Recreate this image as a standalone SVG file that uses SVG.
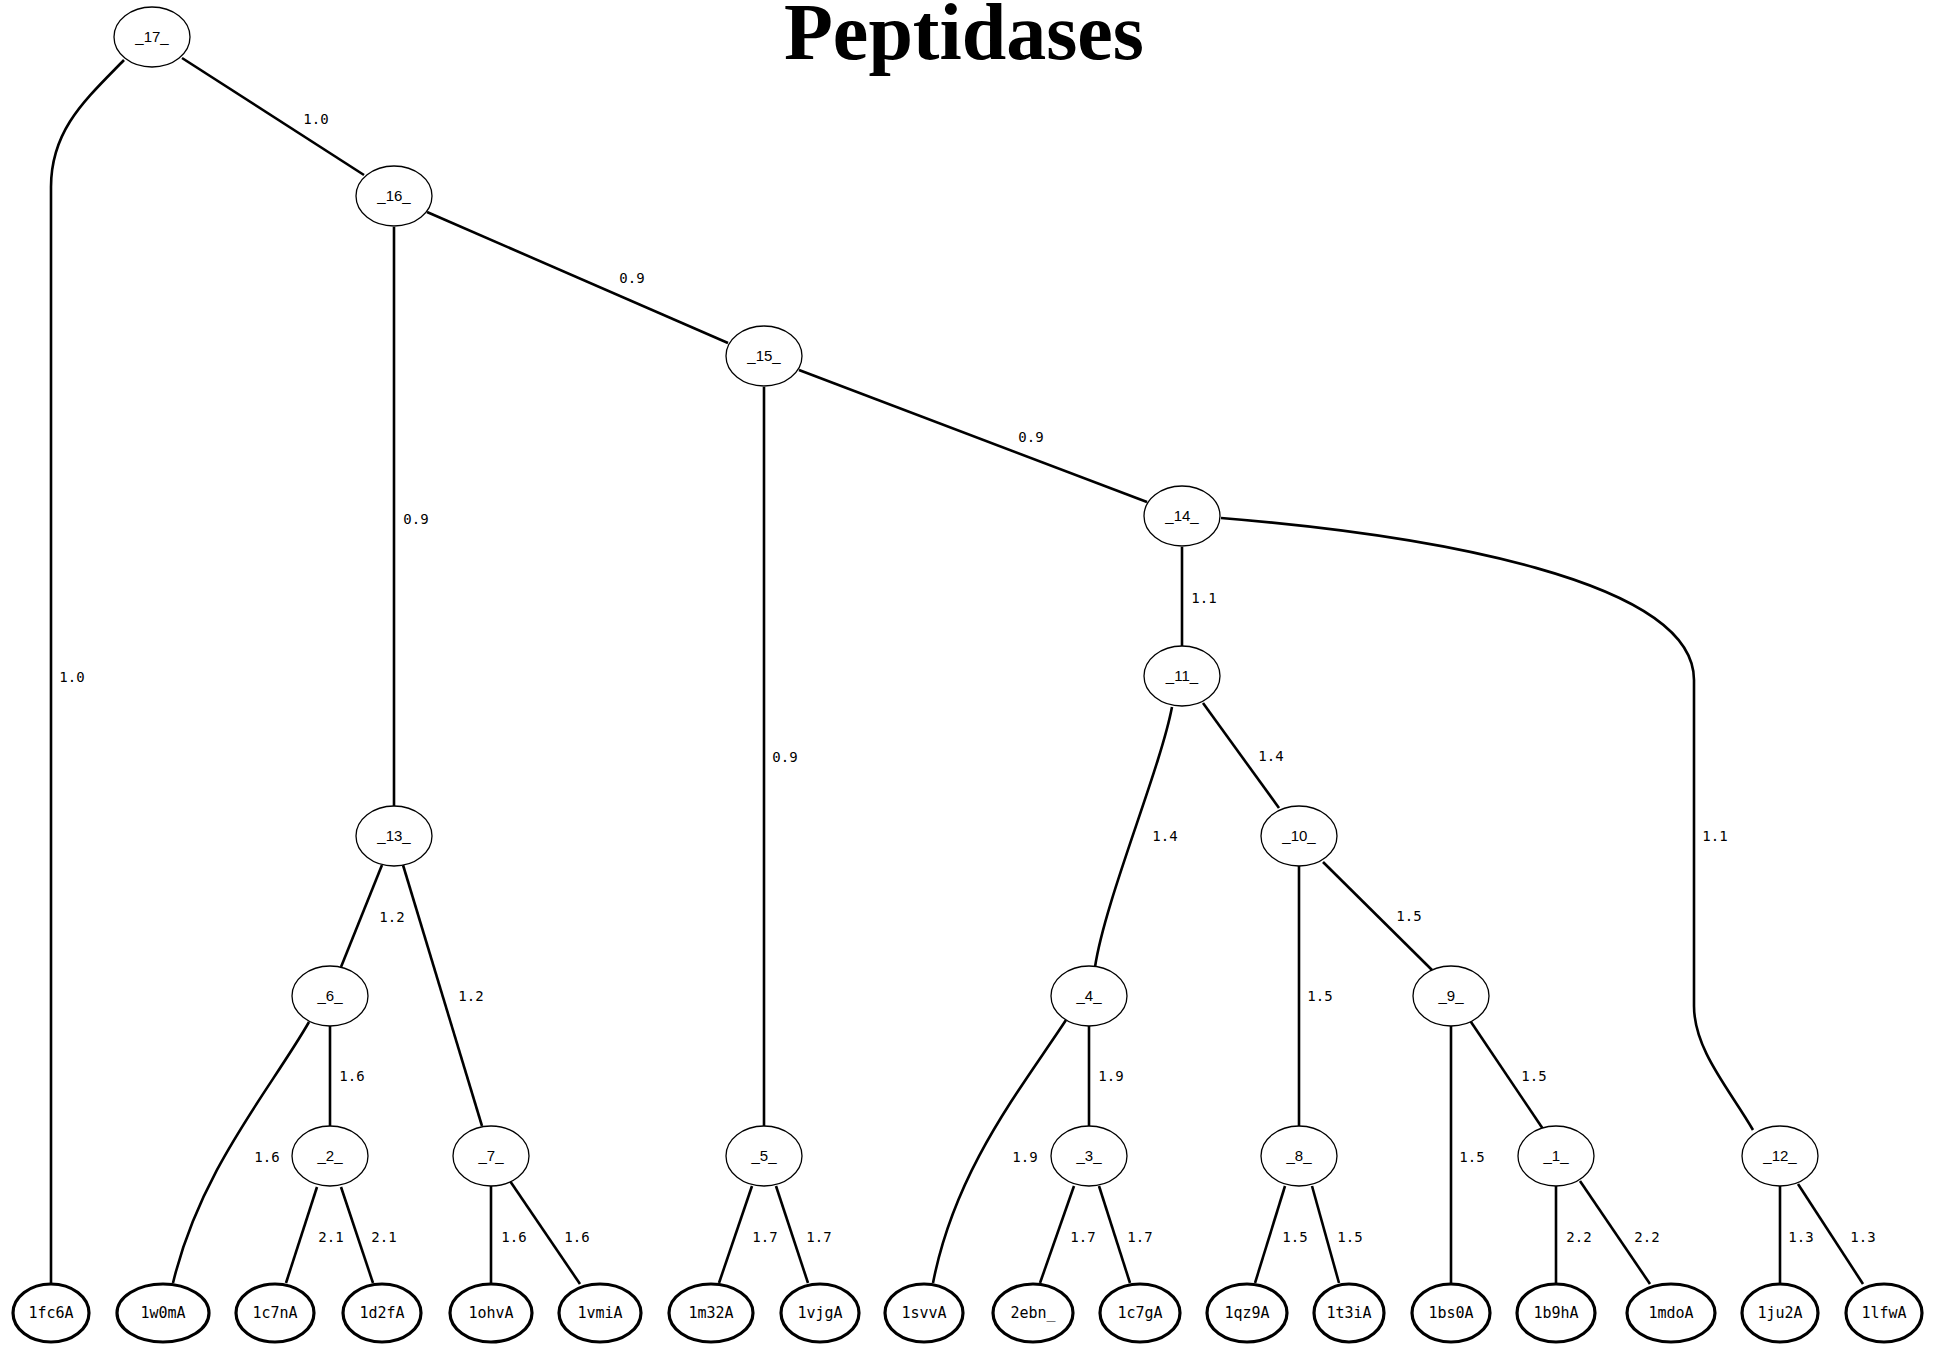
<svg xmlns="http://www.w3.org/2000/svg" width="1936" height="1345" viewBox="0 0 1936 1345">
  <style>
    .edge { fill: none; stroke: #000; stroke-width: 2.6; }
    .inner ellipse { fill: #fff; stroke: #000; stroke-width: 1.3; }
    .leaf ellipse { fill: #fff; stroke: #000; stroke-width: 3.2; }
    .inner text { font-family: "Liberation Sans", Arial, sans-serif; font-size: 15px; text-anchor: middle; fill: #000; }
    .leaf text { font-family: "DejaVu Sans Mono", "Liberation Mono", monospace; font-size: 15px; text-anchor: middle; fill: #000; }
    .elabel { font-family: "DejaVu Sans Mono", "Liberation Mono", monospace; font-size: 14px; text-anchor: middle; fill: #000; }
    .title { font-family: "Liberation Serif", "Times New Roman", serif; font-size: 80px; font-weight: bold; text-anchor: middle; fill: #000; }
  </style>
  <rect width="1936" height="1345" fill="#fff"/>
  <text class="title" x="964" y="59">Peptidases</text>

  <!-- branches of the tree -->
  <g id="connectors">
    <path class="edge" d="M124,60 C85,100 51,130 51,187 L51,1283"/>
    <path class="edge" d="M182,58 L364,175"/>
    <path class="edge" d="M394,227 L394,806"/>
    <path class="edge" d="M427,212 L728,343"/>
    <path class="edge" d="M764,387 L764,1126"/>
    <path class="edge" d="M799,370 L1147,502"/>
    <path class="edge" d="M1182,547 L1182,646"/>
    <path class="edge" d="M1221,518 C1430,535 1694,580 1694,680 L1694,1006 C1694,1050 1730,1090 1753,1130"/>
    <path class="edge" d="M1172,707 C1160,770 1105,900 1095,967"/>
    <path class="edge" d="M1203,703 L1279,808"/>
    <path class="edge" d="M382,865 L341,967"/>
    <path class="edge" d="M403,865 L482,1126"/>
    <path class="edge" d="M1299,866 L1299,1126"/>
    <path class="edge" d="M1323,862 L1432,970"/>
    <path class="edge" d="M330,1026 L330,1126"/>
    <path class="edge" d="M309,1022 C270,1090 200,1170 173,1283"/>
    <path class="edge" d="M1089,1026 L1089,1126"/>
    <path class="edge" d="M1066,1020 C1020,1090 955,1170 933,1283"/>
    <path class="edge" d="M1451,1026 L1451,1283"/>
    <path class="edge" d="M1469,1019 L1543,1129"/>
    <path class="edge" d="M317,1187 L286,1283"/>
    <path class="edge" d="M341,1187 L373,1283"/>
    <path class="edge" d="M491,1186 L491,1283"/>
    <path class="edge" d="M510,1181 L580,1284"/>
    <path class="edge" d="M752,1186 L719,1283"/>
    <path class="edge" d="M776,1186 L808,1283"/>
    <path class="edge" d="M1074,1186 L1040,1283"/>
    <path class="edge" d="M1099,1186 L1130,1283"/>
    <path class="edge" d="M1285,1186 L1255,1283"/>
    <path class="edge" d="M1312,1186 L1339,1283"/>
    <path class="edge" d="M1556,1186 L1556,1283"/>
    <path class="edge" d="M1580,1181 L1650,1284"/>
    <path class="edge" d="M1780,1186 L1780,1283"/>
    <path class="edge" d="M1798,1184 L1863,1284"/>

    <text class="elabel" x="72" y="682">1.0</text>
    <text class="elabel" x="316" y="124">1.0</text>
    <text class="elabel" x="416" y="524">0.9</text>
    <text class="elabel" x="632" y="283">0.9</text>
    <text class="elabel" x="785" y="762">0.9</text>
    <text class="elabel" x="1031" y="442">0.9</text>
    <text class="elabel" x="1204" y="603">1.1</text>
    <text class="elabel" x="1715" y="841">1.1</text>
    <text class="elabel" x="1165" y="841">1.4</text>
    <text class="elabel" x="1271" y="761">1.4</text>
    <text class="elabel" x="392" y="922">1.2</text>
    <text class="elabel" x="471" y="1001">1.2</text>
    <text class="elabel" x="1320" y="1001">1.5</text>
    <text class="elabel" x="1409" y="921">1.5</text>
    <text class="elabel" x="352" y="1081">1.6</text>
    <text class="elabel" x="267" y="1162">1.6</text>
    <text class="elabel" x="1111" y="1081">1.9</text>
    <text class="elabel" x="1025" y="1162">1.9</text>
    <text class="elabel" x="1472" y="1162">1.5</text>
    <text class="elabel" x="1534" y="1081">1.5</text>
    <text class="elabel" x="331" y="1242">2.1</text>
    <text class="elabel" x="384" y="1242">2.1</text>
    <text class="elabel" x="514" y="1242">1.6</text>
    <text class="elabel" x="577" y="1242">1.6</text>
    <text class="elabel" x="765" y="1242">1.7</text>
    <text class="elabel" x="819" y="1242">1.7</text>
    <text class="elabel" x="1083" y="1242">1.7</text>
    <text class="elabel" x="1140" y="1242">1.7</text>
    <text class="elabel" x="1295" y="1242">1.5</text>
    <text class="elabel" x="1350" y="1242">1.5</text>
    <text class="elabel" x="1579" y="1242">2.2</text>
    <text class="elabel" x="1647" y="1242">2.2</text>
    <text class="elabel" x="1801" y="1242">1.3</text>
    <text class="elabel" x="1863" y="1242">1.3</text>
  </g>

  <!-- internal (cluster) nodes -->
  <g id="n17" class="inner"><ellipse cx="152" cy="37" rx="38" ry="30"/><text x="152" y="42">_17_</text></g>
  <g id="n16" class="inner"><ellipse cx="394" cy="196" rx="38" ry="30"/><text x="394" y="201">_16_</text></g>
  <g id="n15" class="inner"><ellipse cx="764" cy="356" rx="38" ry="30"/><text x="764" y="361">_15_</text></g>
  <g id="n14" class="inner"><ellipse cx="1182" cy="516" rx="38" ry="30"/><text x="1182" y="521">_14_</text></g>
  <g id="n11" class="inner"><ellipse cx="1182" cy="676" rx="38" ry="30"/><text x="1182" y="681">_11_</text></g>
  <g id="n13" class="inner"><ellipse cx="394" cy="836" rx="38" ry="30"/><text x="394" y="841">_13_</text></g>
  <g id="n10" class="inner"><ellipse cx="1299" cy="836" rx="38" ry="30"/><text x="1299" y="841">_10_</text></g>
  <g id="n6" class="inner"><ellipse cx="330" cy="996" rx="38" ry="30"/><text x="330" y="1001">_6_</text></g>
  <g id="n4" class="inner"><ellipse cx="1089" cy="996" rx="38" ry="30"/><text x="1089" y="1001">_4_</text></g>
  <g id="n9" class="inner"><ellipse cx="1451" cy="996" rx="38" ry="30"/><text x="1451" y="1001">_9_</text></g>
  <g id="n2" class="inner"><ellipse cx="330" cy="1156" rx="38" ry="30"/><text x="330" y="1161">_2_</text></g>
  <g id="n7" class="inner"><ellipse cx="491" cy="1156" rx="38" ry="30"/><text x="491" y="1161">_7_</text></g>
  <g id="n5" class="inner"><ellipse cx="764" cy="1156" rx="38" ry="30"/><text x="764" y="1161">_5_</text></g>
  <g id="n3" class="inner"><ellipse cx="1089" cy="1156" rx="38" ry="30"/><text x="1089" y="1161">_3_</text></g>
  <g id="n8" class="inner"><ellipse cx="1299" cy="1156" rx="38" ry="30"/><text x="1299" y="1161">_8_</text></g>
  <g id="n1" class="inner"><ellipse cx="1556" cy="1156" rx="38" ry="30"/><text x="1556" y="1161">_1_</text></g>
  <g id="n12" class="inner"><ellipse cx="1780" cy="1156" rx="38" ry="30"/><text x="1780" y="1161">_12_</text></g>

  <!-- leaf structures -->
  <g id="l1fc6A" class="leaf"><ellipse cx="51" cy="1313" rx="38" ry="29"/><text x="51" y="1318">1fc6A</text></g>
  <g id="l1w0mA" class="leaf"><ellipse cx="163" cy="1313" rx="46" ry="29"/><text x="163" y="1318">1w0mA</text></g>
  <g id="l1c7nA" class="leaf"><ellipse cx="275" cy="1313" rx="39" ry="29"/><text x="275" y="1318">1c7nA</text></g>
  <g id="l1d2fA" class="leaf"><ellipse cx="382" cy="1313" rx="39" ry="29"/><text x="382" y="1318">1d2fA</text></g>
  <g id="l1ohvA" class="leaf"><ellipse cx="491" cy="1313" rx="41" ry="29"/><text x="491" y="1318">1ohvA</text></g>
  <g id="l1vmiA" class="leaf"><ellipse cx="600" cy="1313" rx="41" ry="29"/><text x="600" y="1318">1vmiA</text></g>
  <g id="l1m32A" class="leaf"><ellipse cx="711" cy="1313" rx="42" ry="29"/><text x="711" y="1318">1m32A</text></g>
  <g id="l1vjgA" class="leaf"><ellipse cx="820" cy="1313" rx="39" ry="29"/><text x="820" y="1318">1vjgA</text></g>
  <g id="l1svvA" class="leaf"><ellipse cx="924" cy="1313" rx="39" ry="29"/><text x="924" y="1318">1svvA</text></g>
  <g id="l2ebn_" class="leaf"><ellipse cx="1033" cy="1313" rx="40" ry="29"/><text x="1033" y="1318">2ebn_</text></g>
  <g id="l1c7gA" class="leaf"><ellipse cx="1140" cy="1313" rx="40" ry="29"/><text x="1140" y="1318">1c7gA</text></g>
  <g id="l1qz9A" class="leaf"><ellipse cx="1247" cy="1313" rx="40" ry="29"/><text x="1247" y="1318">1qz9A</text></g>
  <g id="l1t3iA" class="leaf"><ellipse cx="1349" cy="1313" rx="35" ry="29"/><text x="1349" y="1318">1t3iA</text></g>
  <g id="l1bs0A" class="leaf"><ellipse cx="1451" cy="1313" rx="39" ry="29"/><text x="1451" y="1318">1bs0A</text></g>
  <g id="l1b9hA" class="leaf"><ellipse cx="1556" cy="1313" rx="39" ry="29"/><text x="1556" y="1318">1b9hA</text></g>
  <g id="l1mdoA" class="leaf"><ellipse cx="1671" cy="1313" rx="44" ry="29"/><text x="1671" y="1318">1mdoA</text></g>
  <g id="l1ju2A" class="leaf"><ellipse cx="1780" cy="1313" rx="38" ry="29"/><text x="1780" y="1318">1ju2A</text></g>
  <g id="l1lfwA" class="leaf"><ellipse cx="1884" cy="1313" rx="38" ry="29"/><text x="1884" y="1318">1lfwA</text></g>
</svg>
